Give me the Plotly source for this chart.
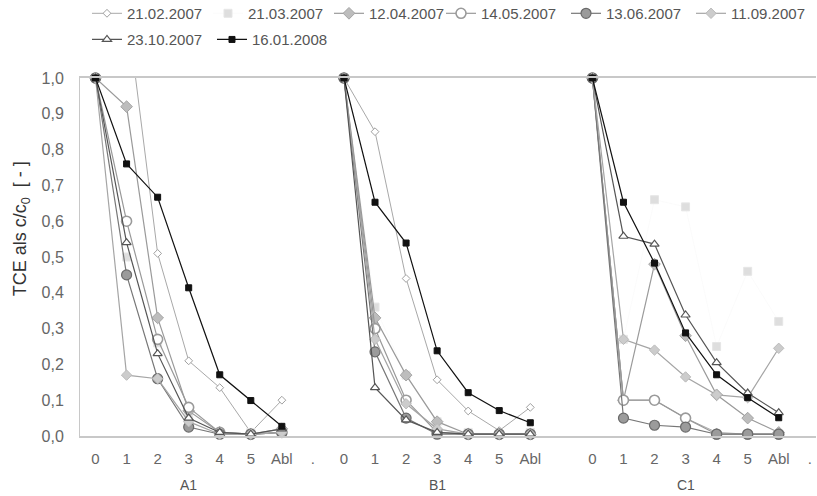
import plotly.graph_objects as go

# ---- data ----
step_labels = ["0", "1", "2", "3", "4", "5", "Abl"]
group_labels = ["A1", "B1", "C1"]
gap_labels = [".", "", "."]

series_names = ["21.02.2007", "21.03.2007", "12.04.2007", "14.05.2007",
                "13.06.2007", "11.09.2007", "23.10.2007", "16.01.2008"]

# values per series: A1 (7), B1 (7), C1 (7)
s_21_02_2007 = [1.0, 1.2, 0.51, 0.21, 0.135, 0.01, 0.10,
                1.0, 0.85, 0.44, 0.157, 0.07, 0.015, 0.08,
                1.0, 0.10, 0.10, 0.05, 0.01, 0.005, 0.005]
s_21_03_2007 = [1.0, 0.50, 0.26, 0.06, 0.01, 0.01, 0.01,
                1.0, 0.36, 0.17, 0.04, 0.01, 0.005, 0.01,
                1.0, 0.27, 0.66, 0.64, 0.25, 0.46, 0.32]
s_12_04_2007 = [1.0, 0.92, 0.33, 0.07, 0.01, 0.005, 0.02,
                1.0, 0.33, 0.17, 0.04, 0.005, 0.005, 0.005,
                1.0, 0.10, 0.48, 0.28, 0.115, 0.05, 0.01]
s_14_05_2007 = [1.0, 0.60, 0.27, 0.08, 0.01, 0.005, 0.01,
                1.0, 0.30, 0.10, 0.01, 0.005, 0.005, 0.005,
                1.0, 0.10, 0.10, 0.05, 0.005, 0.005, 0.005]
s_13_06_2007 = [1.0, 0.45, 0.16, 0.025, 0.005, 0.005, 0.01,
                1.0, 0.235, 0.05, 0.005, 0.005, 0.005, 0.005,
                1.0, 0.05, 0.03, 0.025, 0.005, 0.005, 0.005]
s_11_09_2007 = [1.0, 0.17, 0.16, 0.04, 0.005, 0.005, 0.01,
                1.0, 0.27, 0.09, 0.02, 0.005, 0.005, 0.005,
                1.0, 0.27, 0.24, 0.165, 0.115, 0.107, 0.245]
s_23_10_2007 = [1.0, 0.54, 0.23, 0.05, 0.01, 0.005, 0.02,
                1.0, 0.135, 0.045, 0.01, 0.005, 0.005, 0.005,
                1.0, 0.558, 0.536, 0.338, 0.205, 0.12, 0.065]
s_16_01_2008 = [1.0, 0.76, 0.667, 0.414, 0.171, 0.099, 0.027,
                1.0, 0.653, 0.539, 0.238, 0.121, 0.071, 0.037,
                1.0, 0.653, 0.483, 0.288, 0.171, 0.107, 0.051]

all_series = [s_21_02_2007, s_21_03_2007, s_12_04_2007, s_14_05_2007,
              s_13_06_2007, s_11_09_2007, s_23_10_2007, s_16_01_2008]

# ---- styles ----
styles = [
    dict(line=dict(color="#a8a8a8", width=1),
         marker=dict(symbol="diamond", size=6, color="white", line=dict(color="#a0a0a0", width=1))),
    dict(line=dict(color="rgba(235,235,235,0.2)", width=1),
         marker=dict(symbol="square", size=8, color="#dedede", line=dict(color="#e6e6e6", width=1))),
    dict(line=dict(color="#9a9a9a", width=1.2),
         marker=dict(symbol="diamond", size=9, color="#bdbdbd", line=dict(color="#a5a5a5", width=1))),
    dict(line=dict(color="#999999", width=1.2),
         marker=dict(symbol="circle", size=10, color="white", line=dict(color="#9a9a9a", width=1.6))),
    dict(line=dict(color="#777777", width=1.2),
         marker=dict(symbol="circle", size=10, color="#9b9b9b", line=dict(color="#6a6a6a", width=1.2))),
    dict(line=dict(color="#a5a5a5", width=1.2),
         marker=dict(symbol="diamond", size=8, color="#cccccc", line=dict(color="#bbbbbb", width=1))),
    dict(line=dict(color="#555555", width=1.2),
         marker=dict(symbol="triangle-up", size=8, color="white", line=dict(color="#555555", width=1.2))),
    dict(line=dict(color="#111111", width=1.2),
         marker=dict(symbol="square", size=6, color="#111111", line=dict(color="#111111", width=1))),
]
legend_ids = ["legend", "legend", "legend", "legend2", "legend2", "legend2", "legend3", "legend3"]

n_steps = len(step_labels)
slot = n_steps + 1

tickvals, ticktext = [], []
for g in range(len(group_labels)):
    for i, lab in enumerate(step_labels):
        tickvals.append(g * slot + i)
        ticktext.append(lab)
    tickvals.append(g * slot + n_steps)
    ticktext.append(gap_labels[g])

fig = go.Figure()
for k, (name, vals, st) in enumerate(zip(series_names, all_series, styles)):
    xs, ys = [], []
    for g in range(len(group_labels)):
        for i in range(n_steps):
            xs.append(g * slot + i)
            ys.append(vals[g * n_steps + i])
        xs.append(g * slot + n_steps)
        ys.append(None)
    fig.add_trace(go.Scatter(
        x=xs, y=ys, name=name, mode="lines+markers",
        line=st["line"], marker=st["marker"],
        cliponaxis=(k == 0),
        legend=legend_ids[k],
    ))

for g, lab in enumerate(group_labels):
    fig.add_annotation(x=g * slot + 3, y=-0.137, xref="x", yref="paper",
                       text=lab, showarrow=False, yanchor="middle",
                       font=dict(size=14, color="#555555"))

fig.add_annotation(x=-0.079, y=0.58, xref="paper", yref="paper",
                   text="TCE als c/c<sub>0</sub>  [ - ]", textangle=-90,
                   showarrow=False, xanchor="center", yanchor="middle",
                   font=dict(size=18, color="#333333"))

legend_common = dict(orientation="h", xanchor="left", yanchor="middle",
                     font=dict(size=15, color="#555555"),
                     bgcolor="rgba(0,0,0,0)", entrywidthmode="pixels",
                     itemclick=False, itemdoubleclick=False)

fig.update_layout(
    width=817, height=496,
    margin=dict(l=80, r=1, t=77.5, b=59.5, autoexpand=False),
    paper_bgcolor="white", plot_bgcolor="white",
    separators=",.",
    font=dict(family="Liberation Sans, Arial, sans-serif", color="#666666"),
    showlegend=True,
    legend=dict(x=0.0095, y=1.18, entrywidth=76, **legend_common),
    legend2=dict(x=0.4905, y=1.18, entrywidth=80, **legend_common),
    legend3=dict(x=0.0095, y=1.107, entrywidth=80, **legend_common),
    xaxis=dict(range=[-0.5, 23.2], tickvals=tickvals, ticktext=ticktext,
               showgrid=False, zeroline=False, showline=True, mirror=True,
               linecolor="#c8c8c8", linewidth=1.5, ticks="",
               ticklabelstandoff=8,
               tickfont=dict(size=15, color="#666666")),
    yaxis=dict(range=[0, 1.0], dtick=0.1, tickformat=".1f",
               showgrid=False, zeroline=False, showline=True,
               linecolor="#c8c8c8", linewidth=1, ticks="",
               ticklabelstandoff=12,
               tickfont=dict(size=16, color="#666666")),
)

fig.write_html("out.html")
